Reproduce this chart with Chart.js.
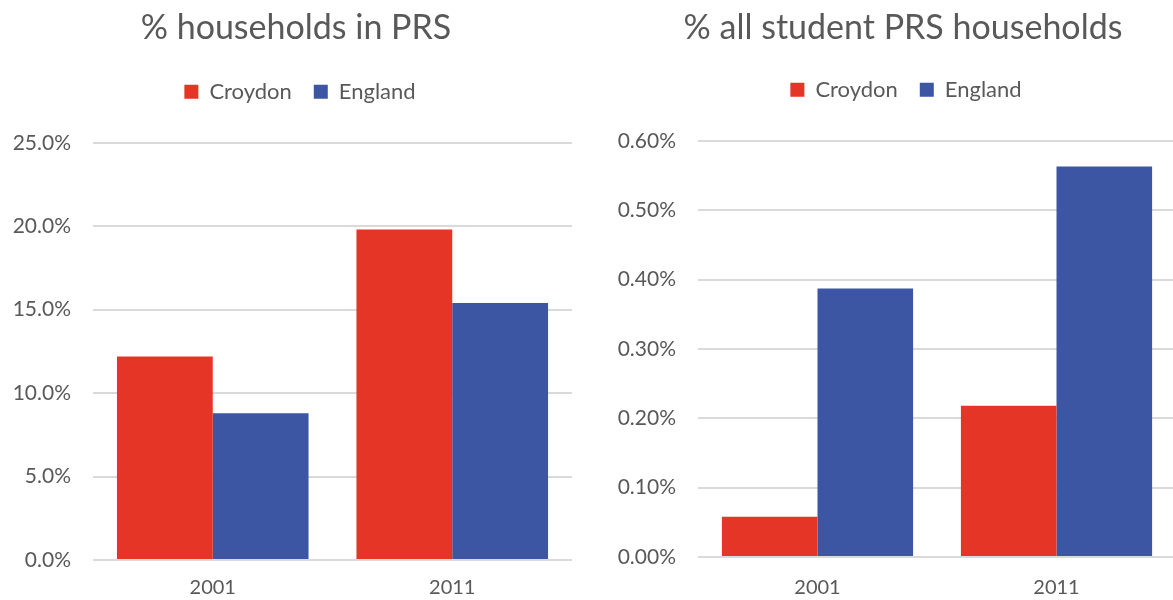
<!DOCTYPE html>
<html>
<head>
<meta charset="utf-8">
<script src="https://cdn.jsdelivr.net/npm/chart.js@4.4.1/dist/chart.umd.min.js"></script>
<style>
html, body { margin: 0; padding: 0; background: #fff; overflow: hidden; }
.box { position: absolute; top: 0; height: 600px; }
</style>
</head>
<body>
<div class="box" style="left:0;width:585px"><canvas id="prs"></canvas></div>
<div class="box" style="left:590px;width:590px"><canvas id="student"></canvas></div>
<script>
// values (percent)
const years = ['2001', '2011'];
const seriesNames = ['Croydon', 'England'];
const prsCroydon = [12.2, 19.8];
const prsEngland = [8.8, 15.4];
const studentCroydon = [0.058, 0.218];
const studentEngland = [0.387, 0.563];

const red = '#E43526';
const blue = '#3C56A3';
const txt = '#595959';
const font = 'Lato, "Liberation Sans", sans-serif';

// moves title / legend after layout so they sit like in the original
const shiftBoxes = {
    id: 'shiftBoxes',
    afterLayout(chart, args, o) {
        const t = chart.titleBlock, l = chart.legend;
        if (t) { t.left += o.titleX; t.right += o.titleX; t.top += o.titleY; t.bottom += o.titleY; }
        if (l) { l.left += o.legendX; l.right += o.legendX; l.top += o.legendY; l.bottom += o.legendY; }
    }
};

function barChart(id, title, croydon, england, max, step, digits, g) {
    const data = {
        labels: years,
        datasets: [
            { label: seriesNames[0], data: croydon, backgroundColor: red },
            { label: seriesNames[1], data: england, backgroundColor: blue }
        ]
    };
    const config = {
        type: 'bar',
        data: data,
        plugins: [shiftBoxes],
        options: {
            responsive: true,
            maintainAspectRatio: false,
            animation: false,
            layout: { padding: { left: 0, right: g.padRight, top: g.padTop, bottom: 0 } },
            datasets: { bar: { categoryPercentage: 0.8, barPercentage: 1.0 } },
            plugins: {
                tooltip: { enabled: false },
                shiftBoxes: { titleX: g.titleX, titleY: -g.padTop, legendX: g.legendX, legendY: g.legendY },
                title: {
                    display: true,
                    text: title,
                    color: txt,
                    font: { family: font, size: 34, weight: 'normal' },
                    padding: { top: 8, bottom: 0 }
                },
                legend: {
                    display: true,
                    labels: {
                        color: txt,
                        font: { family: font, size: 22 },
                        boxWidth: 14,
                        boxHeight: 14,
                        padding: 22
                    }
                }
            },
            scales: {
                x: {
                    grid: { display: false, drawTicks: false },
                    border: { display: false },
                    ticks: { color: txt, font: { family: font, size: 20 }, padding: g.xPad },
                    afterFit: function (s) { s.height = g.xHeight; }
                },
                y: {
                    min: 0,
                    max: max,
                    grid: { color: '#DADADA', lineWidth: 2, drawTicks: false },
                    border: { display: false },
                    ticks: {
                        stepSize: step,
                        color: txt,
                        font: { family: font, size: 21 },
                        padding: 22,
                        callback: function (v) { return v.toFixed(digits) + '%'; }
                    },
                    afterFit: function (s) { s.width = g.yWidth; }
                }
            }
        }
    };
    return new Chart(document.getElementById(id).getContext('2d'), config);
}

barChart('prs', '% households in PRS', prsCroydon, prsEngland, 25, 5, 1,
    { padRight: 13, padTop: 40, yWidth: 93, xHeight: 40, xPad: 16, titleX: 10, legendX: 14, legendY: -30 });
barChart('student', '% all student PRS households', studentCroydon, studentEngland, 0.6, 0.1, 2,
    { padRight: 4, padTop: 38, yWidth: 108, xHeight: 43, xPad: 19, titleX: 20, legendX: 23, legendY: -30 });
</script>
</body>
</html>
